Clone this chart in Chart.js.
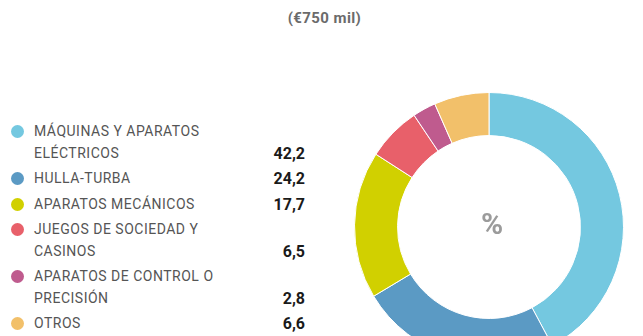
<!DOCTYPE html>
<html>
<head>
<meta charset="utf-8">
<script src="https://cdn.jsdelivr.net/npm/chart.js@4/dist/chart.umd.min.js"></script>
<style>
  html, body { margin: 0; padding: 0; background: #fff; }
  body { width: 643px; height: 336px; overflow: hidden; position: relative; font-family: Roboto, "DejaVu Sans", sans-serif; }
  #title { position: absolute; left: 0; width: 649px; top: 9px; text-align: center; font-size: 15px; font-weight: bold; color: #6b6b6b; letter-spacing: 0.4px; }
  #legend { position: absolute; left: 0; top: 121px; width: 305px; }
  .row { display: flex; align-items: flex-end; margin-bottom: 4px; }
  .dot { width: 13px; height: 13px; border-radius: 50%; margin-left: 11px; margin-right: 10px; align-self: flex-start; margin-top: 4px; flex: none; }
  .name { flex: 1; font-size: 14px; line-height: 21.5px; color: #555; letter-spacing: 0.5px; white-space: pre-line; }
  .val { font-size: 16px; line-height: 21.5px; font-weight: bold; color: #1a1a1a; }
  #donut { position: absolute; left: 354px; top: 92px; width: 270px; height: 270px; }
</style>
</head>
<body>
<div id="title">(€750 mil)</div>
<div id="legend"></div>
<div id="donut"><canvas id="chart" width="270" height="270"></canvas></div>
<script>
// sectors, clockwise from 12 o'clock
const categories = [
  ["MÁQUINAS Y APARATOS", "ELÉCTRICOS"],
  ["HULLA-TURBA"],
  ["APARATOS MECÁNICOS"],
  ["JUEGOS DE SOCIEDAD Y", "CASINOS"],
  ["APARATOS DE CONTROL O", "PRECISIÓN"],
  ["OTROS"]
];
const shares = [42.2, 24.2, 17.7, 6.5, 2.8, 6.6];
const colors = ["#74c8e0", "#5b9ac4", "#d1d000", "#e8606a", "#bf5b8e", "#f2c06a"];
const centerLabel = "%";

// legend list on the left
const legend = document.getElementById("legend");
categories.forEach((lines, i) => {
  const row = document.createElement("div");
  row.className = "row";
  row.innerHTML =
    `<span class="dot" style="background:${colors[i]}"></span>` +
    `<span class="name">${lines.join("\n")}</span>` +
    `<span class="val">${shares[i].toFixed(1).replace(".", ",")}</span>`;
  legend.appendChild(row);
});

const centerText = {
  id: "centerText",
  afterDraw(chart) {
    const { ctx, chartArea } = chart;
    const x = (chartArea.left + chartArea.right) / 2 + 3;
    const y = (chartArea.top + chartArea.bottom) / 2;
    ctx.save();
    ctx.font = "bold 30px Roboto, sans-serif";
    ctx.fillStyle = "#9b9b9b";
    ctx.textAlign = "center";
    ctx.textBaseline = "middle";
    ctx.fillText(centerLabel, x, y - 1);
    ctx.restore();
  }
};

new Chart(document.getElementById("chart"), {
  type: "doughnut",
  data: {
    labels: categories.map(l => l.join(" ")),
    datasets: [{
      data: shares,
      backgroundColor: colors,
      borderColor: "#fff",
      borderWidth: 1
    }]
  },
  options: {
    responsive: false,
    devicePixelRatio: 1,
    animation: false,
    cutout: "68%",
    layout: { padding: 0 },
    plugins: { legend: { display: false }, tooltip: { enabled: false } }
  },
  plugins: [centerText]
});
</script>
</body>
</html>
